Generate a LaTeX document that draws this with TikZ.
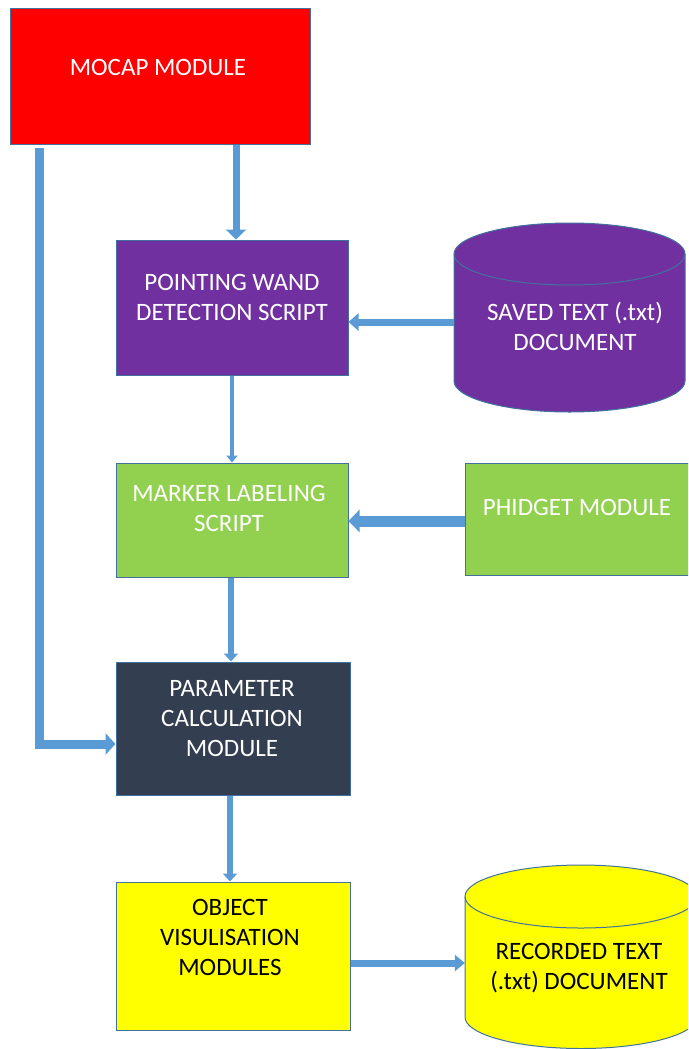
\documentclass[tikz,border=0pt]{standalone}
\usepackage{fontspec}
\setmainfont{Carlito}
\usetikzlibrary{arrows.meta,calc}

\definecolor{mocapred}{HTML}{FF0000}
\definecolor{wandpurple}{HTML}{7030A0}
\definecolor{labelgreen}{HTML}{92D050}
\definecolor{paramnavy}{HTML}{333F50}
\definecolor{visyellow}{HTML}{FFFF00}
\definecolor{edgeblue}{HTML}{41719C}
\definecolor{flowblue}{HTML}{5B9BD5}

\tikzset{
  blockbox/.style={draw=edgeblue, line width=1pt, rectangle, inner sep=0pt},
  hull/.style={inner sep=0pt, rectangle},
  caption/.style={inner sep=0pt, align=center, font=\fontsize{25}{30}\selectfont},
  cylside/.style={draw=edgeblue, line width=1pt},
  flow/.style={draw=flowblue, line width=#1},
  flow/.default=7pt,
}

\begin{document}
\begin{tikzpicture}[x={(1pt,0pt)}, y={(0pt,-1pt)}]
\useasboundingbox (0,0) rectangle (688,1049);
\clip (0,0) rectangle (688,1049);

% rectangular blocks
\node[blockbox, fill=mocapred, minimum width=300pt, minimum height=135pt] (mocap) at (160,76.5) {};
\node[blockbox, fill=wandpurple, minimum width=232pt, minimum height=135pt] (wand) at (232,307.5) {};
\node[blockbox, fill=labelgreen, minimum width=232pt, minimum height=114pt] (marker) at (232,520) {};
\node[blockbox, fill=labelgreen, minimum width=232pt, minimum height=112pt] (phidget) at (581,519) {};
\node[blockbox, fill=paramnavy, minimum width=234pt, minimum height=133pt] (param) at (233,728.5) {};
\node[blockbox, fill=visyellow, minimum width=234pt, minimum height=148pt] (vis) at (233,956) {};

% saved text document (cylinder)
\filldraw[cylside, fill=wandpurple]
  (454,254) -- (454,381) arc[start angle=180, end angle=0, x radius=115.5, y radius=31]
  -- (685,254) arc[start angle=0, end angle=-180, x radius=115.5, y radius=31] -- cycle;
\draw[cylside] (454,254) arc[start angle=180, end angle=0, x radius=115.5, y radius=31];
\node[hull, minimum width=231pt, minimum height=189pt] (saved) at (569.5,317.5) {};

% recorded text document (cylinder)
\filldraw[cylside, fill=visyellow]
  (465,896.5) -- (465,1017) arc[start angle=180, end angle=0, x radius=116, y radius=31.5]
  -- (697,896.5) arc[start angle=0, end angle=-180, x radius=116, y radius=31.5] -- cycle;
\draw[cylside] (465,896.5) arc[start angle=180, end angle=0, x radius=116, y radius=31.5];
\node[hull, minimum width=232pt, minimum height=184pt] (recorded) at (581,957) {};

% captions
\node[caption, text=white] (mocaptxt) at (158,67) {MOCAP MODULE};
\node[caption, text=white] (wandtxt) at (232,297) {POINTING WAND\\DETECTION SCRIPT};
\node[caption, text=white] (savedtxt) at (575,326) {SAVED TEXT (.txt)\\DOCUMENT};
\node[caption, text=white] (markertxt) at (229,508) {MARKER LABELING\\SCRIPT};
\node[caption, text=white] (phidgettxt) at (577,507) {PHIDGET MODULE};
\node[caption, text=white] (paramtxt) at (232,719) {PARAMETER\\CALCULATION\\MODULE};
\node[caption, text=black] (vistxt) at (230,937) {OBJECT\\VISULISATION\\MODULES};
\node[caption, text=black] (recordedtxt) at (579,968) {RECORDED TEXT\\(.txt) DOCUMENT};

% connectors
\draw[flow=7pt, -{Triangle[length=10pt, width=20pt]}]
  ([xshift=76pt]mocap.south) -- ([xshift=4pt]wand.north);
\draw[flow=9pt, -{Triangle[length=10pt, width=21pt]}]
  ($(mocap.south west)+(30,3)$) |- ([yshift=-15.5pt]param.west);
\draw[flow=7pt, -{Triangle[length=10pt, width=17pt]}]
  ([yshift=-4.5pt]saved.west) -- ([yshift=-4.5pt]saved.west -| wand.east);
\draw[flow=4pt, -{Triangle[length=7pt, width=11pt]}]
  (wand.south) -- (marker.north);
\draw[flow=11pt, -{Triangle[length=11pt, width=22pt]}]
  ([yshift=-2pt]phidget.west) -- ([yshift=-2pt]phidget.west -| marker.east);
\draw[flow=6pt, -{Triangle[length=8pt, width=14pt]}]
  ([xshift=-1pt]marker.south) -- ([xshift=-2pt]param.north);
\draw[flow=6pt, -{Triangle[length=8pt, width=14pt]}]
  ([xshift=-3pt]param.south) -- ([xshift=-3pt]vis.north);
\draw[flow=7pt, -{Triangle[length=10pt, width=16pt]}]
  ([yshift=-7pt]vis.east) -- ([yshift=-7pt]vis.east -| recorded.west);
\end{tikzpicture}
\end{document}
